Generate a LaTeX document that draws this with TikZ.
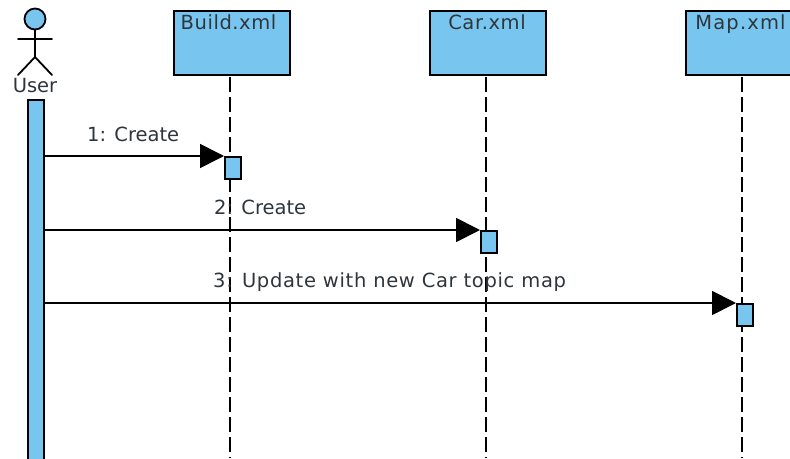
\documentclass[tikz,border=0pt]{standalone}
\usepackage{fontspec}
\setmainfont{DejaVu Sans}
\newfontfamily\widefont[LetterSpace=2.9]{DejaVu Sans}
\newfontfamily\widerfont[LetterSpace=6]{DejaVu Sans}
\newfontfamily\msgfont[LetterSpace=3.5]{DejaVu Sans}
\usetikzlibrary{arrows.meta}
\definecolor{fillblue}{HTML}{78C6F0}
\definecolor{txt}{HTML}{2E353B}
\tikzset{
  x=1pt,y=-1pt,
  object/.style={draw=black,line width=2pt,fill=fillblue,minimum width=116pt,minimum height=64pt,inner sep=0pt,anchor=north west},
  act/.style={draw=black,line width=1.8pt,fill=fillblue,minimum width=16pt,minimum height=22pt,inner sep=0pt,anchor=north west},
  userbar/.style={draw=black,line width=1.8pt,fill=fillblue,minimum width=16pt,minimum height=380pt,inner sep=0pt,anchor=north west},
  lbl/.style={text=txt,font=\fontsize{19.5pt}{22pt}\selectfont,inner sep=0pt},
  widelbl/.style={text=txt,font=\widefont\fontsize{19.5pt}{22pt}\selectfont,inner sep=0pt},
  widerlbl/.style={text=txt,font=\widerfont\fontsize{19.5pt}{22pt}\selectfont,inner sep=0pt},
  longlbl/.style={text=txt,font=\msgfont\fontsize{19.5pt}{22pt}\selectfont,inner sep=0pt},
  lifeline/.style={line width=1.8pt,black,dash pattern=on 15pt off 5pt,dash phase=19pt},
  msg/.style={line width=1.8pt,black,-{Triangle[length=24pt,width=24pt]}},
  stick/.style={line width=1.8pt,black,line cap=round},
}
\begin{document}
\begin{tikzpicture}
\useasboundingbox (0,0) rectangle (790,458);
\clip (0,0) rectangle (790,458);
% lifelines ends
\coordinate (endB) at (230,458);
\coordinate (endC) at (486,458);
\coordinate (endM) at (742,458);
\node[object] (build) at (173,10) {};
\node[object] (car) at (429,10) {};
\node[object] (map) at (685,10) {};
\node[widelbl,anchor=base] (buildlbl) at (228.5,29.5) {Build.xml};
\node[widelbl,anchor=base] (carlbl) at (487,29.5) {Car.xml};
\node[widerlbl,anchor=base] (maplbl) at (740.5,29.5) {Map.xml};
\draw[lifeline] (build.south -| endB) -- (endB);
\draw[lifeline] (car.south -| endC) -- (endC);
\draw[lifeline] (map.south -| endM) -- (endM);
% actor
\node[draw=black,line width=1.8pt,fill=fillblue,circle,minimum size=21pt,inner sep=0pt] (head) at (35,19) {};
\coordinate (hip) at (35,57);
\coordinate (larm) at (18,39);
\coordinate (rarm) at (52,39);
\coordinate (lleg) at (18,75);
\coordinate (rleg) at (52,75);
\draw[stick] (head.south) -- (hip);
\draw[stick] (larm) -- (rarm);
\draw[stick] (lleg) -- (hip) -- (rleg);
\node[lbl,anchor=base] (userlbl) at (35,92.5) {User};
\node[userbar] (bar) at (27,99) {};
% activations
\node[act] (a1) at (224,156) {};
\node[act] (a2) at (480,230) {};
\node[act] (a3) at (736,303) {};
% messages
\draw[msg] (bar.east |- a1.north west) -- (a1.north west);
\draw[msg] (bar.east |- a2.north west) -- (a2.north west);
\draw[msg] (bar.east |- a3.north west) -- (a3.north west);
\node[lbl,anchor=base west] (m1) at (87,141.5) {1: Create};
\node[lbl,anchor=base west] (m2) at (214,214) {2: Create};
\node[longlbl,anchor=base west] (m3) at (213,287.5) {3: Update with new Car topic map};
\end{tikzpicture}
\end{document}
